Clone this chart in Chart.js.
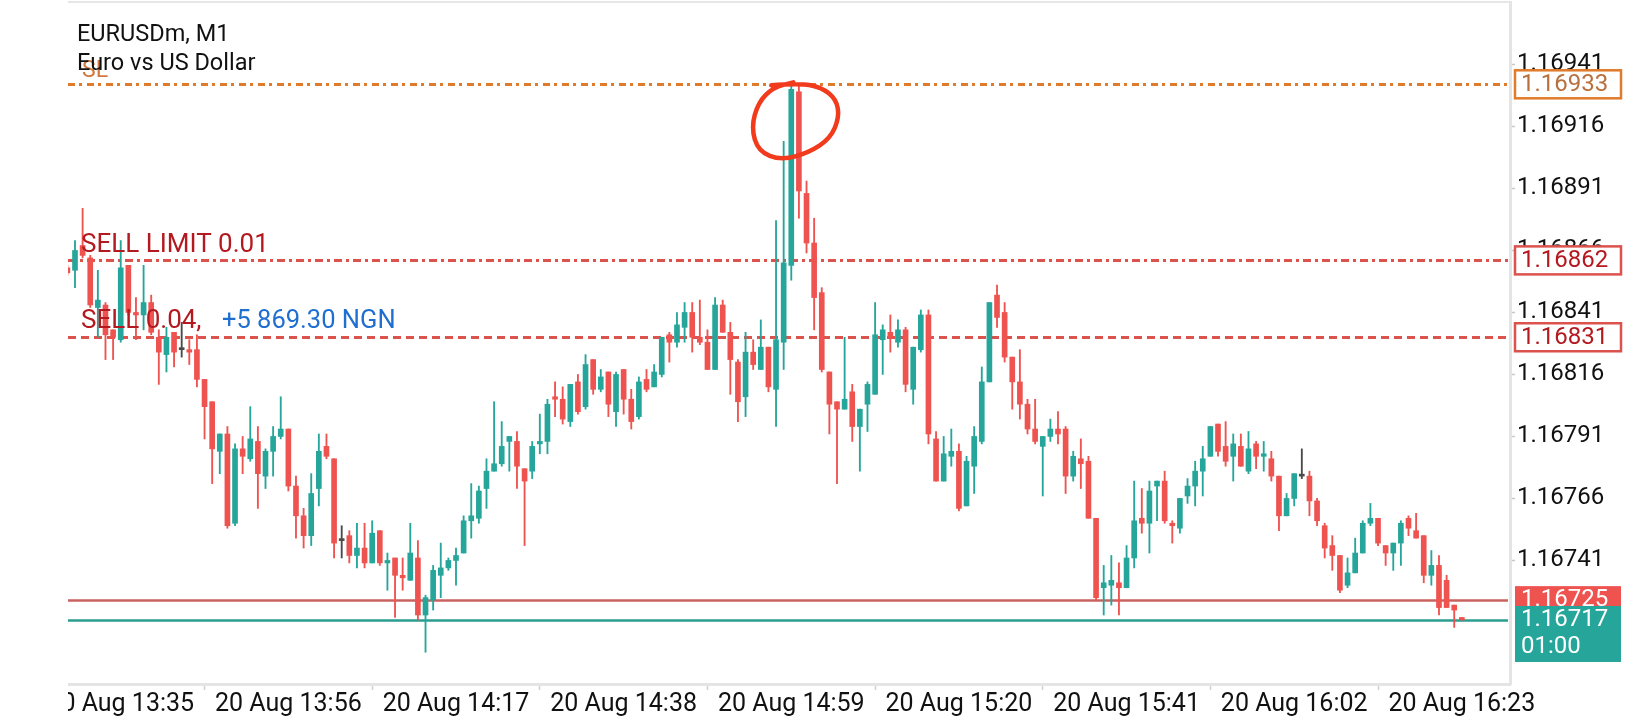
<!DOCTYPE html>
<html><head><meta charset="utf-8">
<script src="https://cdn.jsdelivr.net/npm/chart.js@4.4.1/dist/chart.umd.min.js"></script>
<style>html,body{margin:0;padding:0;background:#fff;}canvas{display:block;}</style>
</head><body>
<canvas id="c" width="1640" height="720" style="width:1640px;height:720px"></canvas>
<script>
// ---- data (EURUSDm M1 candles) ----
const opens = [1.16859,1.16858,1.16868,1.16863,1.16843,1.16844,1.16834,1.16830,1.16860,1.16841,
1.16840,1.16845,1.16831,1.16824,1.16833,1.16826,1.16826,1.16826,1.16814,1.16805,
1.16785,1.16792,1.16756,1.16786,1.16782,1.16789,1.16775,1.16785,1.16791,1.16794,
1.16771,1.16759,1.16751,1.16770,1.16787,1.16782,1.16749,1.16751,1.16743,1.16746,
1.16740,1.16753,1.16740,1.16742,1.16735,1.16733,1.16742,1.16719,1.16725,1.16735,
1.16738,1.16741,1.16744,1.16757,1.16758,1.16770,1.16777,1.16780,1.16789,1.16789,
1.16778,1.16777,1.16788,1.16789,1.16807,1.16806,1.16797,1.16813,1.16803,1.16822,
1.16810,1.16817,1.16801,1.16818,1.16806,1.16799,1.16814,1.16811,1.16816,1.16832,
1.16829,1.16835,1.16841,1.16831,1.16829,1.16818,1.16844,1.16833,1.16821,1.16807,
1.16825,1.16818,1.16827,1.16810,1.16829,1.16860,1.16930,1.16889,1.16869,1.16849,
1.16817,1.16805,1.16802,1.16809,1.16795,1.16804,1.16808,1.16830,1.16833,1.16829,
1.16834,1.16810,1.16826,1.16840,1.16790,1.16773,1.16783,1.16785,1.16763,1.16779,
1.16789,1.16813,1.16848,1.16841,1.16823,1.16813,1.16804,1.16794,1.16787,1.16791,
1.16794,1.16794,1.16775,1.16782,1.16781,1.16758,1.16730,1.16731,1.16732,1.16730,
1.16742,1.16758,1.16756,1.16771,1.16773,1.16756,1.16754,1.16767,1.16771,1.16777,
1.16783,1.16796,1.16787,1.16783,1.16787,1.16777,1.16788,1.16783,1.16782,1.16775,
1.16759,1.16766,1.16775,1.16775,1.16765,1.16755,1.16747,1.16743,1.16731,1.16736,
1.16744,1.16756,1.16758,1.16747,1.16744,1.16748,1.16758,1.16753,1.16751,1.16735,
1.16739,1.16733,1.16723,1.16718];
const highs = [1.16860,1.16870,1.16883,1.16864,1.16858,1.16845,1.16834,1.16870,1.16860,1.16847,
1.16860,1.16848,1.16834,1.16835,1.16833,1.16837,1.16830,1.16832,1.16814,1.16805,
1.16792,1.16795,1.16788,1.16791,1.16803,1.16795,1.16786,1.16795,1.16807,1.16794,
1.16775,1.16762,1.16776,1.16792,1.16792,1.16782,1.16755,1.16753,1.16756,1.16756,
1.16757,1.16753,1.16744,1.16742,1.16742,1.16756,1.16749,1.16727,1.16739,1.16748,
1.16742,1.16746,1.16759,1.16772,1.16771,1.16782,1.16805,1.16797,1.16791,1.16793,
1.16778,1.16789,1.16800,1.16806,1.16813,1.16811,1.16812,1.16816,1.16824,1.16822,
1.16818,1.16817,1.16817,1.16818,1.16810,1.16815,1.16818,1.16820,1.16831,1.16833,
1.16841,1.16845,1.16845,1.16846,1.16834,1.16847,1.16846,1.16837,1.16822,1.16833,
1.16830,1.16838,1.16827,1.16878,1.16910,1.16933,1.16933,1.16894,1.16879,1.16851,
1.16817,1.16805,1.16831,1.16812,1.16802,1.16813,1.16845,1.16836,1.16840,1.16838,
1.16835,1.16827,1.16842,1.16842,1.16793,1.16791,1.16794,1.16788,1.16783,1.16795,
1.16819,1.16845,1.16852,1.16845,1.16823,1.16826,1.16806,1.16806,1.16791,1.16798,
1.16801,1.16795,1.16785,1.16790,1.16783,1.16758,1.16739,1.16743,1.16740,1.16747,
1.16773,1.16770,1.16773,1.16773,1.16777,1.16757,1.16766,1.16774,1.16781,1.16787,
1.16795,1.16796,1.16797,1.16792,1.16792,1.16793,1.16789,1.16789,1.16785,1.16775,
1.16768,1.16776,1.16786,1.16777,1.16766,1.16756,1.16751,1.16743,1.16742,1.16750,
1.16757,1.16764,1.16758,1.16747,1.16748,1.16757,1.16759,1.16760,1.16751,1.16745,
1.16743,1.16735,1.16723,1.16718];
const lows = [1.16856,1.16851,1.16863,1.16843,1.16831,1.16822,1.16822,1.16829,1.16840,1.16830,
1.16834,1.16832,1.16812,1.16817,1.16819,1.16823,1.16820,1.16811,1.16790,1.16772,
1.16776,1.16754,1.16755,1.16776,1.16781,1.16762,1.16770,1.16775,1.16790,1.16769,
1.16750,1.16746,1.16747,1.16763,1.16782,1.16742,1.16742,1.16740,1.16738,1.16738,
1.16740,1.16739,1.16729,1.16718,1.16729,1.16733,1.16717,1.16704,1.16721,1.16726,
1.16737,1.16731,1.16744,1.16750,1.16756,1.16762,1.16777,1.16779,1.16777,1.16770,
1.16747,1.16774,1.16784,1.16784,1.16799,1.16796,1.16795,1.16800,1.16802,1.16808,
1.16809,1.16799,1.16795,1.16800,1.16794,1.16798,1.16809,1.16811,1.16815,1.16821,
1.16827,1.16829,1.16825,1.16828,1.16818,1.16818,1.16833,1.16808,1.16797,1.16799,
1.16818,1.16818,1.16809,1.16795,1.16818,1.16854,1.16879,1.16865,1.16834,1.16817,
1.16792,1.16772,1.16802,1.16789,1.16777,1.16793,1.16808,1.16816,1.16825,1.16827,
1.16809,1.16804,1.16825,1.16788,1.16773,1.16773,1.16779,1.16761,1.16763,1.16768,
1.16788,1.16813,1.16835,1.16821,1.16802,1.16798,1.16792,1.16788,1.16767,1.16789,
1.16788,1.16768,1.16773,1.16770,1.16758,1.16725,1.16719,1.16723,1.16719,1.16730,
1.16738,1.16752,1.16744,1.16757,1.16756,1.16748,1.16752,1.16764,1.16763,1.16767,
1.16783,1.16783,1.16779,1.16773,1.16779,1.16776,1.16778,1.16777,1.16773,1.16753,
1.16759,1.16763,1.16774,1.16759,1.16755,1.16742,1.16737,1.16728,1.16730,1.16736,
1.16744,1.16755,1.16747,1.16739,1.16737,1.16739,1.16751,1.16750,1.16732,1.16731,
1.16719,1.16722,1.16714,1.16717];
const closes = [1.16857,1.16866,1.16864,1.16844,1.16846,1.16832,1.16831,1.16859,1.16841,1.16840,
1.16845,1.16833,1.16825,1.16831,1.16825,1.16826,1.16825,1.16814,1.16803,1.16786,
1.16792,1.16755,1.16786,1.16783,1.16790,1.16776,1.16785,1.16791,1.16794,1.16771,
1.16759,1.16751,1.16768,1.16785,1.16783,1.16748,1.16749,1.16743,1.16746,1.16740,
1.16752,1.16740,1.16741,1.16735,1.16734,1.16744,1.16719,1.16726,1.16737,1.16738,
1.16741,1.16743,1.16757,1.16759,1.16769,1.16777,1.16780,1.16787,1.16791,1.16779,
1.16773,1.16787,1.16789,1.16804,1.16806,1.16798,1.16812,1.16801,1.16820,1.16810,
1.16815,1.16804,1.16816,1.16806,1.16797,1.16813,1.16810,1.16817,1.16831,1.16829,
1.16836,1.16841,1.16831,1.16829,1.16818,1.16844,1.16833,1.16822,1.16805,1.16825,
1.16820,1.16827,1.16811,1.16830,1.16861,1.16931,1.16890,1.16869,1.16847,1.16818,
1.16804,1.16802,1.16806,1.16795,1.16802,1.16812,1.16832,1.16834,1.16831,1.16834,
1.16812,1.16827,1.16840,1.16792,1.16773,1.16784,1.16785,1.16762,1.16781,1.16791,
1.16813,1.16845,1.16839,1.16823,1.16813,1.16804,1.16794,1.16789,1.16791,1.16794,
1.16792,1.16775,1.16783,1.16780,1.16758,1.16726,1.16732,1.16733,1.16730,1.16742,
1.16757,1.16756,1.16769,1.16773,1.16757,1.16755,1.16766,1.16771,1.16777,1.16782,
1.16795,1.16785,1.16781,1.16788,1.16779,1.16786,1.16783,1.16784,1.16775,1.16759,
1.16766,1.16776,1.16775,1.16765,1.16757,1.16746,1.16743,1.16729,1.16736,1.16744,
1.16756,1.16758,1.16748,1.16744,1.16748,1.16756,1.16754,1.16750,1.16735,1.16739,
1.16722,1.16722,1.16721,1.16717];

const xTickIdx    = [7, 29, 51, 73, 95, 117, 139, 161, 183];
const xTickLabels = ['20 Aug 13:35','20 Aug 13:56','20 Aug 14:17','20 Aug 14:38','20 Aug 14:59',
                     '20 Aug 15:20','20 Aug 15:41','20 Aug 16:02','20 Aug 16:23'];
const yTicks = [1.16941, 1.16916, 1.16891, 1.16866, 1.16841, 1.16816, 1.16791, 1.16766, 1.16741];

const slPrice = 1.16933;
const sellLimitPrice = 1.16862;
const sellPrice = 1.16831;
const askPrice = 1.16725;
const bidPrice = 1.16717;
const titleLines = ['EURUSDm, M1', 'Euro vs US Dollar'];
const profitText = '+5 869.30 NGN';
const timerText = '01:00';
const markedCandle = 95;

// ---- styling ----
const GREEN = '#26a69a', RED = '#ef5350', DOJI = '#4a4a4a';
const FONT = 'Roboto, "Noto Sans", sans-serif';

const idx = opens.map((_, i) => i);
const colorOf = i => closes[i] > opens[i] ? GREEN : (closes[i] < opens[i] ? RED : DOJI);
const colors = idx.map(colorOf);

const overlay = {
  id: 'overlay',
  beforeDraw(chart) {
    const c = chart.ctx;
    c.save();
    c.beginPath();
    c.rect(chart.chartArea.left, 0, chart.width - chart.chartArea.left, chart.height);
    c.clip();
  },
  beforeDatasetsDraw(chart) {
    const c = chart.ctx, a = chart.chartArea, ys = chart.scales.y;
    const line = (p, color, w, dash) => {
      const y = Math.round(ys.getPixelForValue(p)) + 0.5;
      c.save();
      c.strokeStyle = color; c.lineWidth = w; c.setLineDash(dash);
      c.beginPath(); c.moveTo(a.left, y); c.lineTo(a.right - 2, y); c.stroke();
      c.restore();
    };
    line(slPrice, '#e07b2c', 3, [7, 4, 3, 5]);
    line(sellLimitPrice, '#dc524d', 3, [8, 4, 3, 4]);
    line(sellPrice, '#dc524d', 3, [8, 5]);
    line(askPrice, '#c8625e', 2.5, []);
    line(bidPrice, '#2a9d90', 2.5, []);
  },
  afterDatasetsDraw(chart) {
    const c = chart.ctx, ys = chart.scales.y, xs = chart.scales.x;
    c.save();
    c.textBaseline = 'alphabetic'; c.textAlign = 'left';
    c.font = '23px ' + FONT; c.fillStyle = '#d07a40';
    c.fillText('SL', 82, ys.getPixelForValue(slPrice) - 7);
    c.font = '26px ' + FONT; c.fillStyle = '#b3191e';
    c.fillText('SELL LIMIT 0.01', 81, ys.getPixelForValue(sellLimitPrice) - 8);
    c.fillText('SELL 0.04,', 81, ys.getPixelForValue(sellPrice) - 9);
    c.font = '25.5px ' + FONT; c.fillStyle = '#1f6fd0';
    c.fillText(profitText, 222, ys.getPixelForValue(sellPrice) - 9);
    // hand-drawn circle around the spike
    const cx = xs.getPixelForValue(markedCandle), cy = ys.getPixelForValue(slPrice);
    const pts = [[-20,1],[8,-1],[30,3],[45,15],[48,33],[39,54],[18,68],[-10,76],[-33,67],[-40,43],[-33,18],[-18,3],[2,-2]];
    c.strokeStyle = '#f23a1c'; c.lineWidth = 4.5; c.lineCap = 'round'; c.lineJoin = 'round';
    c.beginPath();
    c.moveTo(cx + pts[0][0], cy + pts[0][1]);
    for (let i = 1; i < pts.length - 1; i++) {
      const mx = (pts[i][0] + pts[i+1][0]) / 2, my = (pts[i][1] + pts[i+1][1]) / 2;
      c.quadraticCurveTo(cx + pts[i][0], cy + pts[i][1], cx + mx, cy + my);
    }
    c.lineTo(cx + pts[pts.length-1][0], cy + pts[pts.length-1][1]);
    c.stroke();
    c.restore();
  },
  afterDraw(chart) {
    const c = chart.ctx, a = chart.chartArea, ys = chart.scales.y;
    c.save();
    // top frame line
    c.fillStyle = '#e6e6e6';
    c.fillRect(a.left, 1, a.right - a.left, 2);
    // title
    c.font = '23.5px ' + FONT; c.fillStyle = '#111'; c.textBaseline = 'alphabetic';
    c.fillText(titleLines[0], 77, 41);
    c.fillText(titleLines[1], 77, 70);
    // price boxes
    const bx = 1515, bw = 106;
    const outlined = (p, stroke, txt) => {
      const y = ys.getPixelForValue(p);
      c.fillStyle = '#fff'; c.fillRect(bx, y - 14, bw, 28);
      c.strokeStyle = stroke; c.lineWidth = 2.5; c.strokeRect(bx, y - 14, bw, 28);
      c.font = '24px ' + FONT; c.fillStyle = txt; c.textBaseline = 'middle';
      c.fillText(p.toFixed(5), bx + 6, y + 1);
    };
    outlined(slPrice, '#e07b2c', '#b8703f');
    outlined(sellLimitPrice, '#dc524d', '#b3191e');
    outlined(sellPrice, '#dc524d', '#b3191e');
    const ya = ys.getPixelForValue(askPrice), yb = ys.getPixelForValue(bidPrice);
    c.fillStyle = RED; c.fillRect(bx, ya - 14, bw, 28);
    c.font = '24px ' + FONT; c.fillStyle = '#fff'; c.textBaseline = 'middle';
    c.fillText(askPrice.toFixed(5), bx + 6, ya);
    c.fillStyle = GREEN; c.fillRect(bx, yb - 14, bw, 56);
    c.fillStyle = '#fff';
    c.fillText(bidPrice.toFixed(5), bx + 6, yb);
    c.fillText(timerText, bx + 6, yb + 27);
    c.restore();
    chart.ctx.restore();
  }
};

new Chart(document.getElementById('c'), {
  type: 'bar',
  data: {
    datasets: [
      { label: 'wick', data: idx.map(i => ({ x: i, y: [lows[i], highs[i]] })),
        backgroundColor: colors, barThickness: 1.2, grouped: false, borderWidth: 0, order: 2 },
      { label: 'body', data: idx.map(i => ({ x: i, y: [opens[i], closes[i]] })),
        backgroundColor: colors, barThickness: 5, minBarLength: 2, grouped: false, borderWidth: 0, order: 1 }
    ]
  },
  options: {
    responsive: false, animation: false, devicePixelRatio: 1,
    layout: { padding: { left: 68, top: 2, right: 0, bottom: 0 } },
    plugins: { legend: { display: false }, tooltip: { enabled: false } },
    scales: {
      x: {
        type: 'linear', position: 'bottom', min: 0.081, max: 189.32, offset: false,
        afterBuildTicks: s => { s.ticks = xTickIdx.map(v => ({ value: v })); },
        afterFit: s => { s.height = 36; s.paddingLeft = 0; s.paddingRight = 0; },
        grid: { display: true, drawOnChartArea: false, drawTicks: true, tickLength: 6, tickColor: '#d0d0d0', tickWidth: 1.5 },
        border: { display: true, color: '#e4e4e4', width: 3 },
        ticks: { autoSkip: false, maxRotation: 0, minRotation: 0, padding: 0, color: '#111',
                 font: { family: FONT, size: 25 },
                 callback: v => { const k = xTickIdx.indexOf(v); return k >= 0 ? xTickLabels[k] : ''; } }
      },
      y: {
        type: 'linear', position: 'right', min: 1.1669118, max: 1.1696619,
        afterBuildTicks: s => { s.ticks = yTicks.map(v => ({ value: v })); },
        afterFit: s => { s.width = 130; s.paddingTop = 0; s.paddingBottom = 0; },
        grid: { display: true, drawOnChartArea: false, drawTicks: true, tickLength: 5, tickColor: '#c8c8c8', tickWidth: 1.5 },
        border: { display: true, color: '#e4e4e4', width: 3 },
        ticks: { padding: 2, color: '#111', font: { family: FONT, size: 24 }, labelOffset: 0,
                 callback: v => Number(v).toFixed(5) }
      }
    }
  },
  plugins: [overlay]
});
</script>
</body></html>
